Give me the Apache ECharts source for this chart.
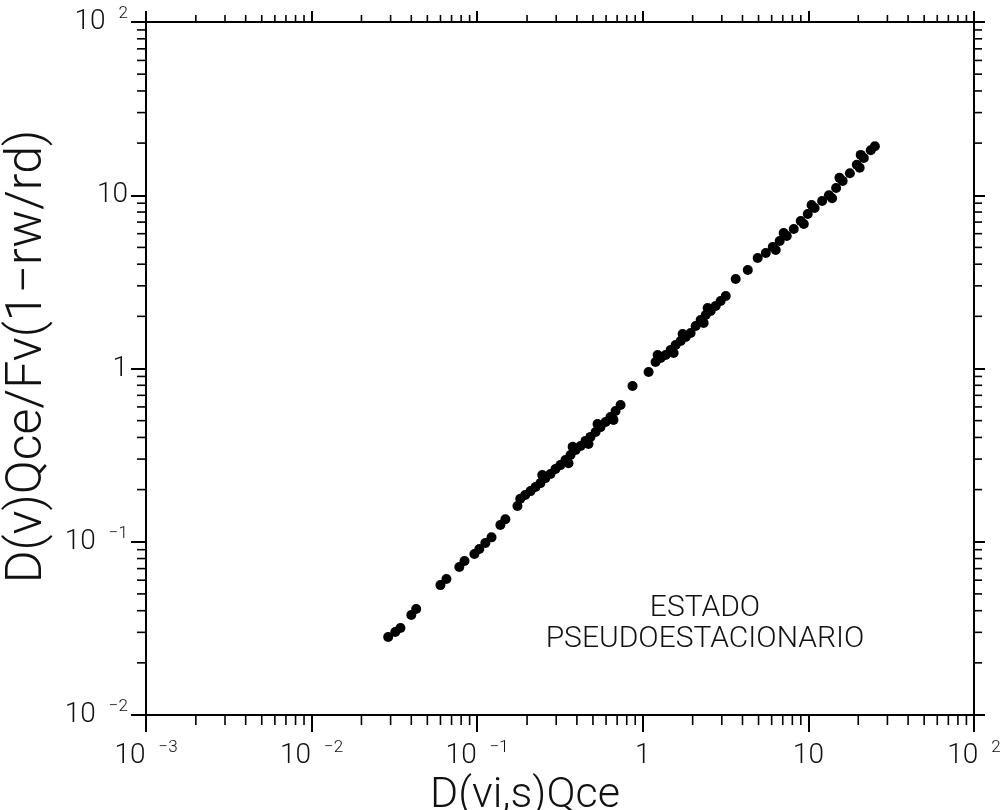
<!DOCTYPE html>
<html>
<head>
<meta charset="utf-8">
<script src="https://cdn.jsdelivr.net/npm/echarts@6/dist/echarts.min.js"></script>
<style>
html, body { margin: 0; background: #fff; }
#chart { width: 1004px; height: 810px; }
</style>
</head>
<body>
<div id="chart"></div>
<script>
// D(vi,s)Qce  (x)  vs  D(v)Qce/Fv(1-rw/rd)  (y)
var dvis = [
  0.0290, 0.0320, 0.0344, 0.0400, 0.0428, 0.0600, 0.0652, 0.0780, 0.0838, 0.0962,
  0.103, 0.112, 0.122, 0.138, 0.148, 0.175,
  0.182, 0.195, 0.210, 0.225, 0.241, 0.258, 0.277, 0.297, 0.318, 0.341,
  0.366, 0.393, 0.421, 0.451, 0.483, 0.519, 0.556, 0.596, 0.638, 0.685, 0.734,
  0.356, 0.377, 0.470, 0.533, 0.665, 0.247,
  0.867, 1.084,
  1.194, 1.282, 1.374, 1.472, 1.578, 1.693, 1.815, 1.945, 2.085, 2.234,
  2.399, 2.570, 2.754, 2.951, 3.169,
  1.535, 1.740, 2.330, 2.464, 1.229,
  3.639, 4.305,
  4.94, 5.53, 6.09, 6.71, 7.40, 8.16, 8.99, 9.91, 10.9, 12.1,
  13.3, 14.7, 16.1, 17.8, 19.6, 21.6, 23.8, 25.2,
  6.35, 7.09, 9.38, 10.45, 13.9, 15.4, 20.4, 20.7
];
var dvq = [
  0.0282, 0.0301, 0.0318, 0.0378, 0.0409, 0.0562, 0.0610, 0.0715, 0.0774, 0.0850,
  0.0908, 0.0984, 0.106, 0.125, 0.135, 0.161,
  0.177, 0.186, 0.196, 0.207, 0.218, 0.233, 0.246, 0.263, 0.277, 0.296,
  0.317, 0.339, 0.357, 0.382, 0.403, 0.430, 0.459, 0.491, 0.525, 0.569, 0.615,
  0.284, 0.353, 0.367, 0.478, 0.505, 0.243,
  0.792, 0.955,
  1.091, 1.150, 1.197, 1.279, 1.367, 1.442, 1.520, 1.603, 1.758, 1.905,
  2.036, 2.148, 2.296, 2.454, 2.620,
  1.229, 1.582, 1.831, 2.236, 1.197,
  3.287, 3.704,
  4.34, 4.64, 5.03, 5.44, 5.82, 6.38, 7.10, 7.80, 8.44, 9.27,
  10.0, 11.0, 12.1, 13.4, 15.0, 16.4, 18.2, 19.2,
  4.83, 6.06, 6.82, 8.79, 9.61, 12.6, 14.4, 17.1
];

var xTicks = [0.001, 0.01, 0.1, 1, 10, 100];
var xTickLabels = [['10', '\u22123'], ['10', '\u22122'], ['10', '\u22121'], ['1', ''], ['10', ''], ['10', '2']];
var yTicks = [0.01, 0.1, 1, 10, 100];
var yTickLabels = [['10', '\u22122'], ['10', '\u22121'], ['1', ''], ['10', ''], ['10', '2']];

var xName = 'D(vi,s)Qce';
var yName = 'D(v)Qce/Fv(1\u2212rw/rd)';
var note = ['ESTADO', 'PSEUDOESTACIONARIO'];

var X_MIN = 0.001, X_MAX = 100, Y_MIN = 0.01, Y_MAX = 100;
var FONT = 'Roboto, "Liberation Sans", sans-serif';

// minor tick positions 2..9 per decade
function minorValues (lo, hi) {
  var out = [];
  for (var e = lo; e < hi; e++) {
    for (var k = 2; k <= 9; k++) out.push(+(k * Math.pow(10, e)).toPrecision(3));
  }
  return out;
}
var xMinor = minorValues(-3, 2);
var yMinor = minorValues(-2, 2);

function tickLabel (ticks, labels) {
  return function (v) {
    var best = 0;
    for (var i = 0; i < ticks.length; i++) {
      if (Math.abs(Math.log10(ticks[i]) - Math.log10(v)) < Math.abs(Math.log10(ticks[best]) - Math.log10(v))) best = i;
    }
    var l = labels[best];
    return l[1] ? '{m|' + l[0] + '}{e|' + l[1] + '}' : '{m|' + l[0] + '}';
  };
}

var labelRich = {
  m: { fontSize: 28, fontFamily: FONT, fontWeight: 300, color: '#111', lineHeight: 34 },
  e: { fontSize: 17, fontFamily: FONT, fontWeight: 300, color: '#111', verticalAlign: 'top', padding: [0, 0, 0, 13], lineHeight: 34 }
};

var lineStyle = { color: '#000', width: 2 };

var points = dvis.map(function (x, i) { return [x, dvq[i]]; });

var option = {
  backgroundColor: '#fff',
  animation: false,
  grid: { left: 146, right: 30, top: 22, bottom: 95, containLabel: false, outerBoundsMode: 'none' },
  xAxis: [{
    type: 'log', logBase: 10, min: X_MIN, max: X_MAX, position: 'bottom',
    axisLine: { lineStyle: lineStyle },
    axisTick: { length: 17, lineStyle: lineStyle },
    splitLine: { show: false },
    axisLabel: { margin: 24, formatter: tickLabel(xTicks, xTickLabels), rich: labelRich, showMinLabel: true, showMaxLabel: true },
    name: xName, nameLocation: 'middle', nameGap: 53,
    nameTextStyle: { fontSize: 43, fontFamily: FONT, fontWeight: 300, color: '#111', padding: [0, 70, 0, 0] }
  }, {
    type: 'log', logBase: 10, min: X_MIN, max: X_MAX, position: 'top',
    axisLine: { lineStyle: lineStyle },
    axisTick: { length: 11, lineStyle: lineStyle },
    splitLine: { show: false },
    axisLabel: { show: false }
  }],
  yAxis: [{
    type: 'log', logBase: 10, min: Y_MIN, max: Y_MAX, position: 'left',
    axisLine: { lineStyle: lineStyle },
    axisTick: { length: 15, lineStyle: lineStyle },
    splitLine: { show: false },
    axisLabel: { margin: 18, formatter: tickLabel(yTicks, yTickLabels), rich: labelRich, showMinLabel: true, showMaxLabel: true },
    name: yName, nameLocation: 'middle', nameGap: 90,
    nameTextStyle: { fontSize: 50, fontFamily: FONT, fontWeight: 300, color: '#111', padding: [0, 0, 0, 24] }
  }, {
    type: 'log', logBase: 10, min: Y_MIN, max: Y_MAX, position: 'right',
    axisLine: { lineStyle: lineStyle },
    axisTick: { length: 11, lineStyle: lineStyle },
    splitLine: { show: false },
    axisLabel: { show: false }
  }],
  graphic: [{
    type: 'text', x: 705, y: 593,
    style: {
      text: note.join('\n'), align: 'center', verticalAlign: 'top', fill: '#111',
      font: '300 30px ' + FONT, lineHeight: 31
    }
  }],
  series: [{
    type: 'custom', xAxisIndex: 0, yAxisIndex: 0, silent: true,
    data: xMinor.map(function (v) { return [v, Y_MIN]; }),
    renderItem: function (params, api) {
      var v = api.value(0);
      var b = api.coord([v, Y_MIN]);
      var t = api.coord([v, Y_MAX]);
      var s = { stroke: '#000', lineWidth: 1.6 };
      return { type: 'group', children: [
        { type: 'line', shape: { x1: b[0], y1: b[1], x2: b[0], y2: b[1] + 10 }, style: s },
        { type: 'line', shape: { x1: t[0], y1: t[1], x2: t[0], y2: t[1] - 7 }, style: s }
      ] };
    }
  }, {
    type: 'custom', xAxisIndex: 0, yAxisIndex: 0, silent: true,
    data: yMinor.map(function (v) { return [X_MIN, v]; }),
    renderItem: function (params, api) {
      var v = api.value(1);
      var l = api.coord([X_MIN, v]);
      var r = api.coord([X_MAX, v]);
      var s = { stroke: '#000', lineWidth: 1.6 };
      return { type: 'group', children: [
        { type: 'line', shape: { x1: l[0], y1: l[1], x2: l[0] - 9, y2: l[1] }, style: s },
        { type: 'line', shape: { x1: r[0], y1: r[1], x2: r[0] + 8, y2: r[1] }, style: s }
      ] };
    }
  }, {
    type: 'scatter', xAxisIndex: 0, yAxisIndex: 0,
    symbol: 'circle', symbolSize: 10,
    itemStyle: { color: '#000', opacity: 1 },
    data: points
  }]
};

var chart = echarts.init(document.getElementById('chart'), null, { renderer: 'canvas' });
chart.setOption(option);
</script>
</body>
</html>
